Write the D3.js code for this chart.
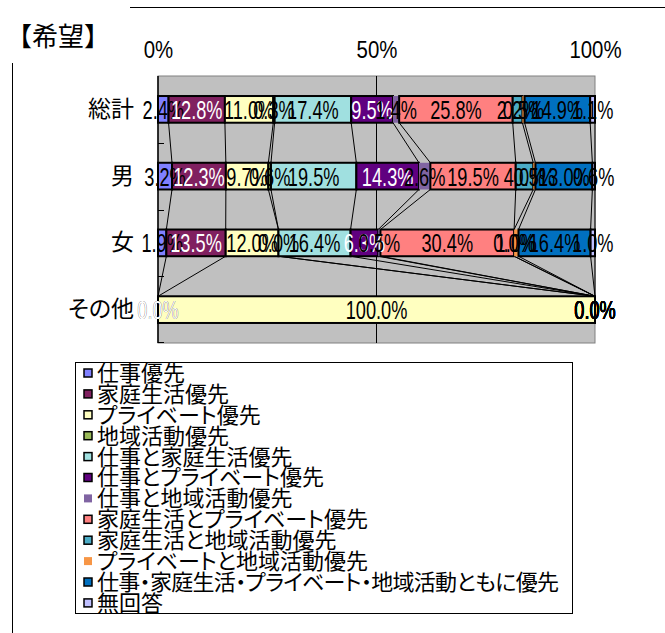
<!DOCTYPE html>
<html>
<head>
<meta charset="utf-8">
<script src="https://cdn.jsdelivr.net/npm/d3@7"></script>
<style>
  body { margin: 0; background: #fff; }
  svg { display: block; }
  .jp { font-feature-settings: "palt" 1; }
</style>
</head>
<body>
<div id="chart"></div>
<script>
// categories (rows) and series (stack order)
var categories = ["総計", "男", "女", "その他"];
var seriesNames = [
  "仕事優先",
  "家庭生活優先",
  "プライベート優先",
  "地域活動優先",
  "仕事と家庭生活優先",
  "仕事とプライベート優先",
  "仕事と地域活動優先",
  "家庭生活とプライベート優先",
  "家庭生活と地域活動優先",
  "プライベートと地域活動優先",
  "仕事・家庭生活・プライベート・地域活動ともに優先",
  "無回答"
];
// percent values, one array per series, in category order
var shigoto = [2.4, 3.2, 1.9, 0.0];
var katei = [12.8, 12.3, 13.5, 0.0];
var private_ = [11.0, 9.7, 12.0, 100.0];
var chiiki = [0.3, 0.6, 0.0, 0.0];
var shigotoKatei = [17.4, 19.5, 16.4, 0.0];
var shigotoPrivate = [9.5, 14.3, 6.3, 0.0];
var shigotoChiiki = [1.4, 2.6, 0.5, 0.0];
var kateiPrivate = [25.8, 19.5, 30.4, 0.0];
var kateiChiiki = [2.2, 4.0, 0.0, 0.0];
var privateChiiki = [0.5, 0.5, 1.0, 0.0];
var subete = [14.9, 13.0, 16.4, 0.0];
var mukaitou = [1.1, 0.6, 1.0, 0.0];
var tickValues = [0, 0.5, 1];

var seriesValues = [shigoto, katei, private_, chiiki, shigotoKatei, shigotoPrivate,
  shigotoChiiki, kateiPrivate, kateiChiiki, privateChiiki, subete, mukaitou];
var colors = ["#8080ff", "#802060", "#ffffc0", "#9bbb59", "#a0e0e0", "#600080",
  "#8064a2", "#ff8080", "#4bacc6", "#f79646", "#0070c0", "#c0c0ff"];
var noBorder = ["仕事と地域活動優先", "プライベートと地域活動優先"];
var whiteText = ["家庭生活優先", "仕事とプライベート優先"];

var width = 665, height = 633;
var numFont = "'Liberation Sans', Arial, sans-serif";
var jpFont = "'Noto Sans CJK JP', 'Noto Sans', sans-serif";

var svg = d3.select("#chart").append("svg")
  .attr("width", width)
  .attr("height", height);

// build rows for d3.stack
var rows = categories.map(function(c, i) {
  var r = { cat: c };
  seriesNames.forEach(function(s, k) { r[s] = seriesValues[k][i]; });
  return r;
});
var stacked = d3.stack().keys(seriesNames).offset(d3.stackOffsetExpand)(rows);

var x = d3.scaleLinear().domain([0, 1]).range([158, 595]);
var y = d3.scaleBand().domain(categories).range([76, 343])
  .paddingInner(0.6).paddingOuter(0.3);

// frame fragments
svg.append("line").attr("x1", 130).attr("x2", 665).attr("y1", 7.5).attr("y2", 7.5)
  .attr("stroke", "#000").attr("stroke-width", 1);
svg.append("line").attr("x1", 12.5).attr("x2", 12.5).attr("y1", 63).attr("y2", 633)
  .attr("stroke", "#000").attr("stroke-width", 1);

// title
svg.append("text").attr("x", 6).attr("y", 46)
  .style("font-family", jpFont).style("font-size", "26px")
  .text("【希望】");

// plot area
svg.append("rect").attr("x", x(0)).attr("y", 76)
  .attr("width", x(1) - x(0)).attr("height", 343 - 76)
  .attr("fill", "#c0c0c0").attr("stroke", "#808080").attr("stroke-width", 1);

// gridline at 50%
svg.append("line").attr("x1", x(0.5)).attr("x2", x(0.5)).attr("y1", 76).attr("y2", 343)
  .attr("stroke", "#000").attr("stroke-width", 1);

// series lines between bars
var step = y.step();
var lineG = svg.append("g");
stacked.forEach(function(layer) {
  for (var i = 0; i < categories.length - 1; i++) {
    var a = layer[i][1], b = layer[i + 1][1];
    lineG.append("line")
      .attr("x1", x(a)).attr("y1", y(categories[i]) + y.bandwidth())
      .attr("x2", x(b)).attr("y2", y(categories[i + 1]))
      .attr("stroke", "#000").attr("stroke-width", 1);
  }
});

// bars
var barG = svg.append("g");
stacked.forEach(function(layer, k) {
  barG.selectAll(null).data(layer).enter().append("rect")
    .attr("x", function(d) { return x(d[0]); })
    .attr("y", function(d) { return y(d.data.cat); })
    .attr("width", function(d) { return x(d[1]) - x(d[0]); })
    .attr("height", y.bandwidth())
    .attr("fill", colors[k])
    .attr("stroke", noBorder.indexOf(layer.key) >= 0 ? "none" : "#000")
    .attr("stroke-width", 2);
});

// left axis line and boundary ticks
svg.append("line").attr("x1", x(0)).attr("x2", x(0)).attr("y1", 76).attr("y2", 343)
  .attr("stroke", "#000").attr("stroke-width", 1.5);
categories.forEach(function(c, i) {
  if (i === 0) return;
  var ty = Math.round(y(c) - step * y.paddingInner() / 2) + 0.5;
  svg.append("line").attr("x1", x(0)).attr("x2", x(0) + 6).attr("y1", ty).attr("y2", ty)
    .attr("stroke", "#000").attr("stroke-width", 1);
});
svg.append("line").attr("x1", x(0)).attr("x2", x(0) + 6).attr("y1", 342.5).attr("y2", 342.5)
  .attr("stroke", "#000").attr("stroke-width", 1);

// category labels
var yAxis = svg.append("g")
  .attr("transform", "translate(" + x(0) + ",0)")
  .call(d3.axisLeft(y).tickSize(0).tickPadding(24));
yAxis.select(".domain").remove();
yAxis.selectAll("text")
  .attr("class", "jp")
  .style("font-family", jpFont).style("font-size", "23px").attr("fill", "#000");

// percent axis on top
var xAxis = svg.append("g")
  .attr("transform", "translate(0,58)")
  .call(d3.axisTop(x).tickValues(tickValues).tickFormat(d3.format(".0%")).tickSize(0).tickPadding(0));
xAxis.select(".domain").remove();
xAxis.selectAll("text")
  .attr("transform", "scale(0.85,1)")
  .style("font-family", numFont).style("font-size", "24px").attr("fill", "#000");

// data labels (narrow, tall digits)
var labelG = svg.append("g");
stacked.forEach(function(layer) {
  var col = whiteText.indexOf(layer.key) >= 0 ? "#fff" : "#000";
  labelG.selectAll(null).data(layer).enter().append("text")
    .attr("transform", function(d) {
      return "translate(" + x((d[0] + d[1]) / 2) + "," + (y(d.data.cat) + y.bandwidth() / 2) + ") scale(0.7,1)";
    })
    .attr("dy", "0.36em")
    .attr("text-anchor", "middle")
    .style("font-family", numFont).style("font-size", "26px")
    .attr("fill", col)
    .text(function(d) { return d.data[layer.key].toFixed(1) + "%"; });
});

// legend
var legX = 75, legY = 362, legW = 497, legH = 251, rowH = 20.9;
svg.append("rect").attr("x", legX + 0.5).attr("y", legY + 0.5)
  .attr("width", legW).attr("height", legH)
  .attr("fill", "#fff").attr("stroke", "#000").attr("stroke-width", 1);
var leg = svg.append("g").selectAll("g").data(seriesNames).enter().append("g")
  .attr("transform", function(d, i) { return "translate(" + (legX + 9) + "," + (legY + 11 + i * rowH) + ")"; });
leg.append("rect")
  .attr("x", 0).attr("y", -4).attr("width", 8).attr("height", 8)
  .attr("fill", function(d, i) { return colors[i]; })
  .attr("stroke", function(d) { return noBorder.indexOf(d) >= 0 ? "none" : "#000"; })
  .attr("stroke-width", 1.5);
leg.append("text")
  .attr("class", "jp")
  .attr("x", 13).attr("dy", "0.36em")
  .attr("textLength", function(d) { return d.length > 20 ? 462 : null; })
  .style("font-family", jpFont).style("font-size", "22px")
  .text(function(d) { return d; });
</script>
</body>
</html>
